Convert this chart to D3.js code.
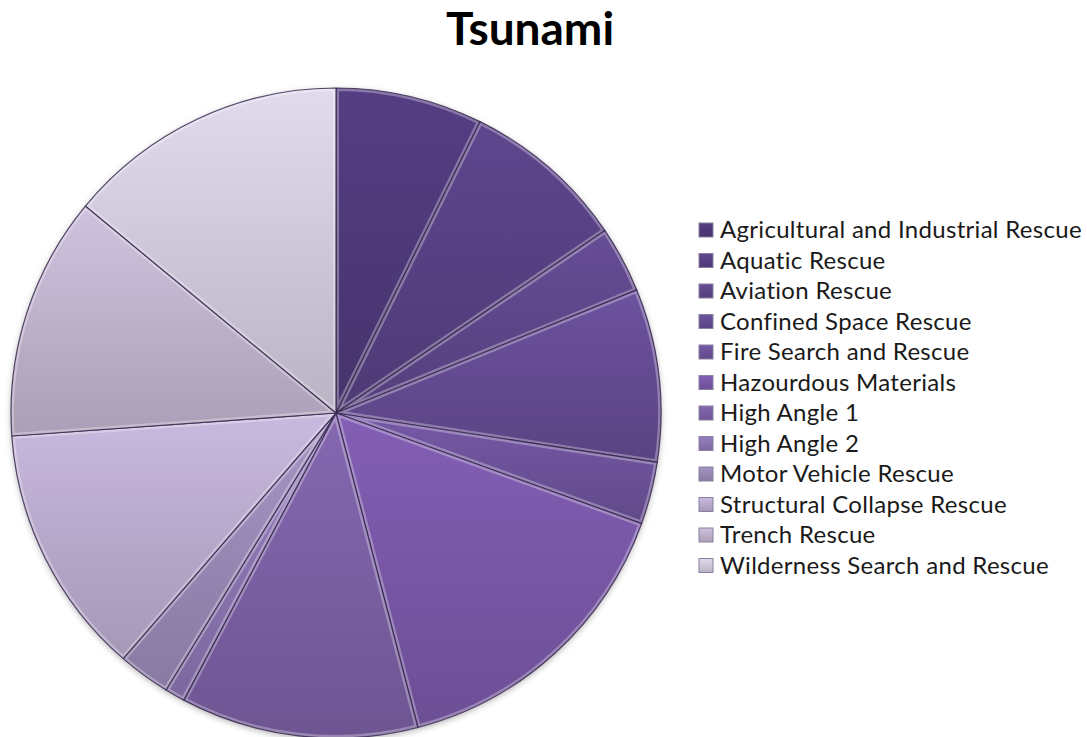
<!DOCTYPE html>
<html>
<head>
<meta charset="utf-8">
<script src="https://cdn.jsdelivr.net/npm/d3@7"></script>
<style>
  body { margin: 0; background: #fff; }
  svg { display: block; }
</style>
</head>
<body>
<div id="chart"></div>
<script>
// slice names, in clockwise order from 12 o'clock
var categories = ["Agricultural and Industrial Rescue", "Aquatic Rescue", "Aviation Rescue",
                  "Confined Space Rescue", "Fire Search and Rescue", "Hazourdous Materials",
                  "High Angle 1", "High Angle 2", "Motor Vehicle Rescue",
                  "Structural Collapse Rescue", "Trench Rescue", "Wilderness Search and Rescue"];

// share of each slice (percent)
var values = [7.3, 8.2, 3.3, 8.6, 3.1, 15.4, 11.8, 1.0, 2.6, 12.5, 12.1, 14.0];

// base colour of each slice
var colors = ["#4e3978", "#574082", "#5e4689", "#644b91", "#6c5199", "#7857a6",
              "#7a5fa2", "#8a74b0", "#9788b4", "#b8a9cc", "#bdb1cb", "#cfc7da"];

var title = "Tsunami";

var width = 1087, height = 737;
var cx = 336, cy = 413, radius = 325;

var svg = d3.select("#chart").append("svg")
    .attr("width", width)
    .attr("height", height);

var defs = svg.append("defs");

//Soft shadow round the pie
var shadow = defs.append("filter").attr("id", "shadow")
    .attr("x", "-10%").attr("y", "-10%").attr("width", "120%").attr("height", "120%");
shadow.append("feDropShadow")
    .attr("dx", 0).attr("dy", 2).attr("stdDeviation", 3)
    .attr("flood-color", "#000").attr("flood-opacity", 0.3);

//One vertical gradient per slice
colors.forEach(function(c, i) {
    var g = defs.append("linearGradient")
        .attr("id", "grad" + i)
        .attr("x1", 0).attr("y1", 0).attr("x2", 0).attr("y2", 1);
    g.append("stop").attr("offset", "0%").attr("stop-color", d3.color(c).brighter(0.25));
    g.append("stop").attr("offset", "100%").attr("stop-color", d3.color(c).darker(0.3));
});

var pie = d3.pie().sort(null).value(function(d) { return d; });
var arc = d3.arc().innerRadius(0).outerRadius(radius);
var arcs = pie(values);

var pieG = svg.append("g")
    .attr("transform", "translate(" + cx + "," + cy + ")");

//Clip paths so the bevel highlight stays inside each slice
arcs.forEach(function(d, i) {
    defs.append("clipPath").attr("id", "clip" + i)
        .append("path").attr("d", arc(d));
});

var shadowG = pieG.append("g").attr("filter", "url(#shadow)");
shadowG.append("circle").attr("r", radius).attr("fill", "#fff");

var slices = pieG.selectAll("g.slice")
    .data(arcs)
    .enter().append("g")
    .attr("class", "slice");

slices.append("path")
    .attr("d", arc)
    .attr("fill", function(d, i) { return "url(#grad" + i + ")"; });

//Bevel: light inner edge
slices.append("path")
    .attr("clip-path", function(d, i) { return "url(#clip" + i + ")"; })
    .attr("d", arc)
    .attr("fill", "none")
    .attr("stroke", "#ffffff")
    .attr("stroke-opacity", 0.3)
    .attr("stroke-width", 6);

//Dark outline
slices.append("path")
    .attr("d", arc)
    .attr("fill", "none")
    .attr("stroke", "#35264d")
    .attr("stroke-opacity", 0.85)
    .attr("stroke-width", 1.2)
    .attr("stroke-linejoin", "round");

//Title
svg.append("text")
    .attr("x", 530)
    .attr("y", 45)
    .attr("text-anchor", "middle")
    .attr("font-family", "Lato, 'Open Sans', sans-serif")
    .attr("font-weight", "bold")
    .attr("font-size", 46)
    .attr("fill", "#000")
    .text(title);

//Legend
var legend = svg.append("g").attr("transform", "translate(699,230)");
var rowH = 30.5;

var items = legend.selectAll("g.item")
    .data(categories)
    .enter().append("g")
    .attr("class", "item")
    .attr("transform", function(d, i) { return "translate(0," + (i * rowH) + ")"; });

items.append("rect")
    .attr("x", 0).attr("y", -7)
    .attr("width", 14).attr("height", 14)
    .attr("fill", function(d, i) { return "url(#grad" + i + ")"; })
    .attr("stroke", "#8a80a0")
    .attr("stroke-width", 1);

items.append("text")
    .attr("x", 21)
    .attr("y", 0)
    .attr("dy", "0.35em")
    .attr("font-family", "Lato, 'Open Sans', sans-serif")
    .attr("font-size", 24)
    .attr("letter-spacing", 0.3)
    .attr("fill", "#1a1a1a")
    .text(function(d) { return d; });
</script>
</body>
</html>
